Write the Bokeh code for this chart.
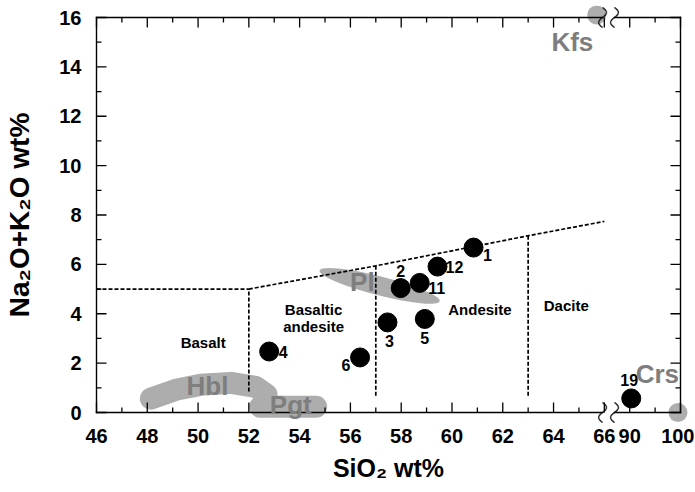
import numpy as np
from bokeh.plotting import figure
from bokeh.models import (ColumnDataSource, FixedTicker, LinearAxis, LabelSet,
                          Range1d, CustomJSTickFormatter)
from bokeh.core.properties import value
from bokeh.embed import file_html
from bokeh.resources import INLINE

# ---------------- data ----------------
sample_ids = ["1", "2", "3", "4", "5", "6", "11", "12", "19"]
sample_sio2 = [60.85, 57.98, 57.46, 52.80, 58.93, 56.38, 58.73, 59.43, 90.3]
sample_alkali = [6.68, 5.04, 3.65, 2.47, 3.79, 2.23, 5.25, 5.91, 0.57]

basalt_upper_sio2 = [46, 52]
basalt_upper_alkali = [5.0, 5.0]
field_upper_sio2 = [52, 57, 63, 66]
field_upper_alkali = [5.0, 5.94, 7.16, 7.74]
divider_sio2 = [52, 57, 63]
divider_low = [0.85, 0.68, 0.68]
divider_high = [5.0, 5.94, 7.16]

field_names = ["Basalt", "Basaltic\nandesite", "Andesite", "Dacite"]
field_sio2 = [50.2, 54.55, 61.1, 64.5]
field_alkali = [2.83, 3.82, 4.18, 4.33]

mineral_names = ["Pl", "Hbl", "Pgt", "Kfs", "Crs"]
mineral_label_sio2 = [56.47, 50.37, 53.65, 64.74, 95.45]
mineral_label_alkali = [5.27, 1.08, 0.31, 15.0, 1.57]

pl_sio2 = [57.15]
pl_alkali = [5.13]
hbl_sio2 = [48.14, 49.12, 50.1, 51.29, 52.27, 52.7]
hbl_alkali = [0.56, 0.92, 1.12, 1.2, 1.04, 0.72]
pgt_sio2 = [52.45, 54.65]
pgt_alkali = [0.23, 0.23]
point_phase_sio2 = [65.7, 99.5]     # Kfs, Crs
point_phase_alkali = [16.1, 0.0]

x_ticks = [46, 48, 50, 52, 54, 56, 58, 60, 62, 64, 66, 90, 100]
x_minor = [47, 49, 51, 53, 55, 57, 59, 61, 63, 65, 95]
y_ticks = [0, 2, 4, 6, 8, 10, 12, 14, 16]
y_minor = [1, 3, 5, 7, 9, 11, 13, 15]

# ---------------- broken x-axis transform ----------------
BREAK_LO, BREAK_HI, GAP, SCALE = 66.0, 90.0, 1.0, 0.2


def tx(v):
    v = np.asarray(v, dtype=float)
    return np.where(v <= BREAK_LO, v, BREAK_LO + GAP + (v - BREAK_HI) * SCALE)


X0, X1 = 46.0, float(tx(100))
Y0, Y1 = 0.0, 16.0
BOX_W, BOX_H = 584, 395          # pixel size of the drawn box
PAD = 12                          # frame is a little larger than the drawn box
PX_X = BOX_W / (X1 - X0)
PX_Y = BOX_H / (Y1 - Y0)

SANS = "Liberation Sans"
GRAY_FILL = "#adadad"
GRAY_TEXT = "#7e7e7e"

p = figure(width=694, height=490,
           x_range=Range1d(X0 - PAD / PX_X, X1 + PAD / PX_X),
           y_range=Range1d(Y0 - PAD / PX_Y, Y1 + PAD / PX_Y),
           x_axis_type=None, y_axis_type=None, output_backend="svg",
           toolbar_location=None, min_border_left=84, min_border_right=2,
           min_border_top=5, min_border_bottom=66)
p.outline_line_color = None
p.background_fill_color = "white"
p.border_fill_color = "white"

xfmt = CustomJSTickFormatter(args=dict(lo=BREAK_LO, hi=BREAK_HI, gap=GAP, sc=SCALE), code="""
    const v = tick <= lo + 1e-9 ? tick : hi + (tick - lo - gap) / sc;
    return Math.round(v).toString();
""")


def label_axis(ax):
    ax.axis_line_color = None
    ax.major_tick_line_color = None
    ax.minor_tick_line_color = None
    ax.major_tick_in = 0
    ax.major_tick_out = 0
    ax.minor_tick_in = 0
    ax.minor_tick_out = 0
    ax.major_label_text_font = SANS
    ax.major_label_text_font_style = "bold"
    ax.major_label_text_font_size = "20px"
    ax.major_label_text_color = "black"
    ax.axis_label_text_font = SANS
    ax.axis_label_text_font_style = "bold"
    ax.axis_label_text_color = "black"


bottom = LinearAxis(ticker=FixedTicker(ticks=[float(t) for t in tx(x_ticks)]), formatter=xfmt)
label_axis(bottom)
bottom.major_label_standoff = 4
bottom.axis_label = "SiO₂ wt%"
bottom.axis_label_text_font_size = "25px"
bottom.axis_label_standoff = 8
left = LinearAxis(ticker=FixedTicker(ticks=y_ticks))
label_axis(left)
left.major_label_standoff = 3
left.axis_label = "Na₂O+K₂O wt%"
left.axis_label_text_font_size = "28px"
left.axis_label_standoff = 21
p.add_layout(bottom, "below")
p.add_layout(left, "left")

# ---------------- mineral fields (gray) ----------------
p.scatter(x=tx(point_phase_sio2), y=point_phase_alkali, size=19,
          fill_color=GRAY_FILL, line_color=None)
p.line(x=tx(pgt_sio2), y=pgt_alkali, line_width=22, line_cap="round", line_color=GRAY_FILL)
p.line(x=tx(hbl_sio2), y=hbl_alkali, line_width=22, line_cap="round", line_join="round",
       line_color=GRAY_FILL)
p.ellipse(x=tx(pl_sio2), y=pl_alkali, width=124, height=19, angle=-0.25,
          width_units="screen", height_units="screen",
          fill_color=GRAY_FILL, line_color=None)

# ---------------- box, ticks and axis breaks ----------------
s1, s2 = BREAK_LO - 0.07, BREAK_LO + 0.40
p.segment(x0=[X0, s2, X0, s2, X0, X1], y0=[Y0, Y0, Y1, Y1, Y0, Y0],
          x1=[s1, X1, s1, X1, X0, X1], y1=[Y0, Y0, Y1, Y1, Y1, Y1],
          line_width=1.4, line_color="black", line_cap="square")

xt = tx(x_ticks)
xm = tx(x_minor)
yt = np.asarray(y_ticks, float)
ym = np.asarray(y_minor, float)
MAJ, MIN = 10, 5
tick_x0 = np.concatenate([xt, xt, xm, xm,
                          np.full(len(yt), X0), np.full(len(yt), X1),
                          np.full(len(ym), X0), np.full(len(ym), X1)])
tick_x1 = np.concatenate([xt, xt, xm, xm,
                          np.full(len(yt), X0 + MAJ / PX_X), np.full(len(yt), X1 - MAJ / PX_X),
                          np.full(len(ym), X0 + MIN / PX_X), np.full(len(ym), X1 - MIN / PX_X)])
tick_y0 = np.concatenate([np.full(len(xt), Y0), np.full(len(xt), Y1),
                          np.full(len(xm), Y0), np.full(len(xm), Y1), yt, yt, ym, ym])
tick_y1 = np.concatenate([np.full(len(xt), Y0 + MAJ / PX_Y), np.full(len(xt), Y1 - MAJ / PX_Y),
                          np.full(len(xm), Y0 + MIN / PX_Y), np.full(len(xm), Y1 - MIN / PX_Y),
                          yt, yt, ym, ym])
p.segment(x0=tick_x0, y0=tick_y0, x1=tick_x1, y1=tick_y1, line_width=1.3, line_color="black")

sx0, sy0, sx1, sy1 = [], [], [], []
tt = np.linspace(-1, 1, 21)
for xc in (s1, s2):
    for yb in (Y0, Y1):
        xs = xc + 4.0 / PX_X * np.sin(np.pi * tt)
        ys = yb + 10.0 / PX_Y * tt
        sx0 += list(xs[:-1]); sx1 += list(xs[1:])
        sy0 += list(ys[:-1]); sy1 += list(ys[1:])
p.segment(x0=sx0, y0=sy0, x1=sx1, y1=sy1, line_width=1.4, line_color="black")

# ---------------- classification boundaries ----------------
DASH = "4 2"
p.line(x=tx(basalt_upper_sio2), y=basalt_upper_alkali, line_dash=DASH, line_width=1.7,
       line_color="black")
p.line(x=tx(field_upper_sio2), y=field_upper_alkali, line_dash=DASH, line_width=1.7,
       line_color="black")
p.segment(x0=tx(divider_sio2), y0=divider_low, x1=tx(divider_sio2), y1=divider_high,
          line_dash=DASH, line_width=1.7, line_color="black")

fsrc = ColumnDataSource(dict(x=tx(field_sio2), y=field_alkali, t=field_names))
p.text(x="x", y="y", text="t", source=fsrc, text_align="center", text_baseline="middle",
       text_font=value(SANS), text_font_style="bold", text_font_size="15px",
       text_line_height=1.0, text_color="black")

# ---------------- samples ----------------
label_dx = [14, 0, 2, 14, 0, -14, 17, 17, -2]
label_dy = [7, -17, 19, 0, 19, 8, 5, 0, -18]
ssrc = ColumnDataSource(dict(x=tx(sample_sio2), y=sample_alkali, t=sample_ids,
                             dx=label_dx, dy=label_dy))
p.scatter(x="x", y="y", source=ssrc, size=19, fill_color="black", line_color="black")
p.text(x="x", y="y", text="t", source=ssrc, x_offset="dx", y_offset="dy",
       text_align="center", text_baseline="middle", text_font=value(SANS),
       text_font_style="bold", text_font_size="16px", text_color="black")

# ---------------- mineral names ----------------
msrc = ColumnDataSource(dict(x=tx(mineral_label_sio2), y=mineral_label_alkali, t=mineral_names))
p.add_layout(LabelSet(x="x", y="y", text="t", source=msrc, text_align="center",
                      text_baseline="middle", text_font=value(SANS),
                      text_font_style="bold", text_font_size="26px", text_color=GRAY_TEXT))

open("out.html", "w").write(file_html(p, INLINE))
